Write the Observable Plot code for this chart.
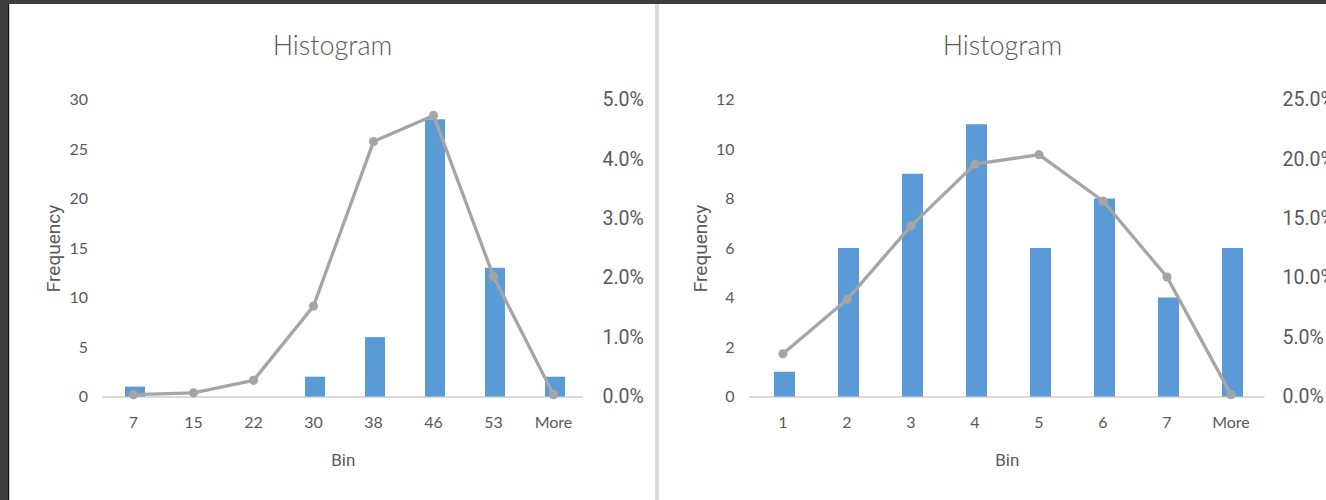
<!DOCTYPE html>
<html>
<head>
<meta charset="utf-8">
<script src="https://cdn.jsdelivr.net/npm/d3@7"></script>
<script src="https://cdn.jsdelivr.net/npm/@observablehq/plot@0.6"></script>
<style>
  html, body { margin:0; padding:0; }
  body { width:1326px; height:500px; overflow:hidden; background:#3d3d3d; position:relative; }
  .panel { position:absolute; top:4px; height:496px; background:#fff; overflow:hidden; }
  .title { position:absolute; width:400px; text-align:center; font-family:Lato, sans-serif; font-weight:300; font-size:27px; line-height:27px; color:#595959; }
  .chart { position:absolute; max-width:none !important; }
  #sep { position:absolute; left:655px; top:4px; width:4px; height:496px; background:#d9d9d9; }
  #edge { position:absolute; left:8px; top:4px; width:1px; height:496px; background:#111; }
</style>
</head>
<body>
<div id="edge"></div>
<div class="panel" id="p1" style="left:9px;width:646px;border-left:1px solid #cfcfcf;box-sizing:border-box;"></div>
<div id="sep"></div>
<div class="panel" id="p2" style="left:659px;width:667px;"></div>
<script>
// ---- data (left chart) ----
const leftBins = ["7", "15", "22", "30", "38", "46", "53", "More"];
const leftFreq = [1, 0, 0, 2, 6, 28, 13, 2];
const leftPct  = [0.04, 0.07, 0.28, 1.53, 4.30, 4.74, 2.03, 0.04];
const leftFreqTicks = [0, 5, 10, 15, 20, 25, 30];
const leftPctTicks  = [0, 1, 2, 3, 4, 5];

// ---- data (right chart) ----
const rightBins = ["1", "2", "3", "4", "5", "6", "7", "More"];
const rightFreq = [1, 6, 9, 11, 6, 8, 4, 6];
const rightPct  = [3.64, 8.2, 14.4, 19.6, 20.4, 16.5, 10.1, 0.2];
const rightFreqTicks = [0, 2, 4, 6, 8, 10, 12];
const rightPctTicks  = [0, 5, 10, 15, 20, 25];

const titleText = "Histogram";
const xLabel = "Bin";
const yLabel = "Frequency";

function histo(cfg) {
  const data = cfg.bins.map((b, i) => ({bin: b, freq: cfg.freq[i], pct: cfg.pct[i]}));
  const yMax = cfg.freqTicks[cfg.freqTicks.length - 1];
  const pMax = cfg.pctTicks[cfg.pctTicks.length - 1];
  const k = yMax / pMax;
  return Plot.plot({
    width: cfg.width, height: cfg.height,
    marginLeft: cfg.marginLeft, marginRight: cfg.marginRight,
    marginTop: cfg.marginTop, marginBottom: cfg.marginBottom,
    style: {background: "transparent", color: "#595959", overflow: "visible", maxWidth: "none"},
    x: {type: "band", domain: cfg.bins, paddingInner: 0.667, paddingOuter: 0.3335, label: null},
    y: {domain: [0, yMax], label: null},
    marks: [
      Plot.ruleY([0], {stroke: "#d9d9d9", strokeWidth: 2}),
      Plot.barY(data, {x: "bin", y: "freq", fill: "#5b9bd5", dx: 2}),
      Plot.line(data, {x: "bin", y: d => d.pct * k, stroke: "#a5a5a5", strokeWidth: 3.3}),
      Plot.dot(data, {x: "bin", y: d => d.pct * k, fill: "#a5a5a5", r: 4.6}),
      Plot.axisX({tickSize: 0, tickPadding: 20, fontSize: 16, fontFamily: "Lato", label: null}),
      Plot.axisY(cfg.freqTicks, {tickSize: 0, tickPadding: 15, fontSize: 16, fontFamily: "Lato", label: null}),
      Plot.axisY(cfg.pctTicks.map(p => p * k), {anchor: "right", tickSize: 0, tickPadding: cfg.rightPad,
        tickFormat: v => (v / k).toFixed(1) + "%", fontSize: 19.5, fontFamily: "Roboto", label: null}),
      Plot.text([yLabel], {frameAnchor: "left", textAnchor: "middle", lineAnchor: "middle", rotate: -90,
        dx: cfg.yLabelDx, fontSize: 19, fontFamily: "Roboto", fill: "#595959"}),
      Plot.text([xLabel], {frameAnchor: "bottom", textAnchor: "middle", lineAnchor: "middle", dy: 63.5,
        fontSize: 17, fontFamily: "Roboto", fill: "#595959"})
    ]
  });
}

function addTitle(parent, centerX, top) {
  const t = document.createElement("div");
  t.className = "title";
  t.textContent = titleText;
  t.style.left = (centerX - 200) + "px";
  t.style.top = top + "px";
  parent.appendChild(t);
}

const p1 = document.getElementById("p1");
const p2 = document.getElementById("p2");

// left panel: content starts at page x=10
addTitle(p1, 332.5 - 10, 27);
const c1 = histo({bins: leftBins, freq: leftFreq, pct: leftPct, freqTicks: leftFreqTicks, pctTicks: leftPctTicks,
  width: 645, height: 416, marginLeft: 92.5, marginRight: 72, marginTop: 19.5, marginBottom: 99.5,
  rightPad: 19, yLabelDx: -49.5});
c1.classList.add("chart");
c1.style.left = "0px"; c1.style.top = "76px";
p1.appendChild(c1);

// right panel: content starts at page x=659
addTitle(p2, 1002.5 - 659, 27);
const c2 = histo({bins: rightBins, freq: rightFreq, pct: rightPct, freqTicks: rightFreqTicks, pctTicks: rightPctTicks,
  width: 720, height: 416, marginLeft: 90, marginRight: 114.5, marginTop: 19.5, marginBottom: 99.5,
  rightPad: 17.5, yLabelDx: -49});
c2.classList.add("chart");
c2.style.left = "0px"; c2.style.top = "76px";
p2.appendChild(c2);
</script>
</body>
</html>
